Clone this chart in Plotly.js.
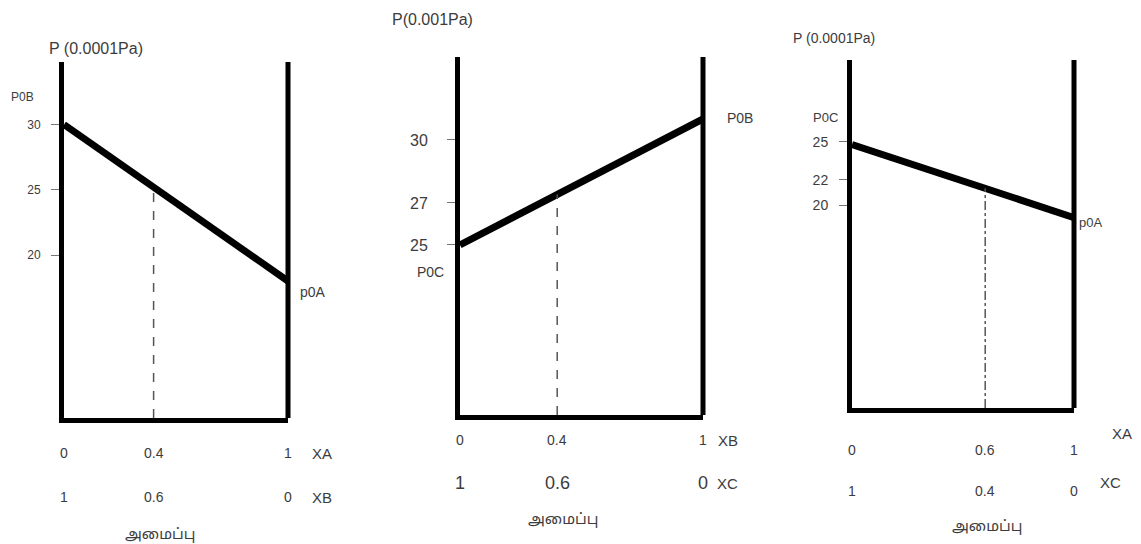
<!DOCTYPE html>
<html>
<head>
<meta charset="utf-8">
<script src="https://cdn.plot.ly/plotly-3.0.1.min.js"></script>
<style>html,body{margin:0;padding:0;background:#fff;}#chart{width:1141px;height:544px;}</style>
</head>
<body>
<div id="chart"></div>
<script>
// ---------- DATA ----------
const composition = [0, 1];               // mole fraction of the first-named component (row 1 axis)
// Panel 1: A-B system
const p1Pressure = [30, 18];              // pOB at x=0, pOA at x=1
const p1TickVals = [20, 25, 30];
const p1TickText = ["20", "25", "30"];
const p1MarkX = 0.4;
const p1Row1 = ["0", "0.4", "1"];
const p1Row2 = ["1", "0.6", "0"];
const p1Names = ["XA", "XB"];
const p1Ends = ["P0B", "p0A"];
// Panel 2: B-C system
const p2Pressure = [25, 31];              // pOC at x=0, pOB at x=1
const p2TickVals = [25, 27, 30];
const p2TickText = ["25", "27", "30"];
const p2MarkX = 0.4;
const p2Row1 = ["0", "0.4", "1"];
const p2Row2 = ["1", "0.6", "0"];
const p2Names = ["XB", "XC"];
const p2Ends = ["P0C", "P0B"];
// Panel 3: A-C system
const p3Pressure = [24.8, 19];            // pOC at x=0, pOA at x=1
const p3TickVals = [20, 22, 25];
const p3TickText = ["20", "22", "25"];
const p3MarkX = 0.6;
const p3Row1 = ["0", "0.6", "1"];
const p3Row2 = ["1", "0.4", "0"];
const p3Names = ["XA", "XC"];
const p3Ends = ["P0C", "p0A"];
const titles = ["P (0.0001Pa)", "P(0.001Pa)", "P (0.0001Pa)"];
const compLabel = "அமைப்பு";

// ---------- LAYOUT HELPERS ----------
const W = 1141, H = 544;
const px = v => v / W, py = v => 1 - v / H;
const FONT = "Liberation Sans, Arial, sans-serif";
const TXT = "#3c3c3c";

function interp(p, x) { return p[0] * (1 - x) + p[1] * x; }

const panels = [
  {p: p1Pressure, tv: p1TickVals, tt: p1TickText, mx: p1MarkX, r1: p1Row1, r2: p1Row2, names: p1Names, ends: p1Ends,
   dom: [[64, 288], [418, 62]], yr: [7.5, 34.8], tickFont: 12, standoff: 8, dash: "dash",
   rowY: [453, 497], rowFont: [14, 14], nameXY: [[322, 453], [322, 497]], lab: [160, 535],
   endXY: [[22, 97], [313, 292]], endFont: [12, 14], titleXY: [96, 48], titleSize: 16},
  {p: p2Pressure, tv: p2TickVals, tt: p2TickText, mx: p2MarkX, r1: p2Row1, r2: p2Row2, names: p2Names, ends: p2Ends,
   dom: [[460, 703], [415, 57]], yr: [16.9, 33.95], tickFont: 16, standoff: 16, dash: "dash",
   rowY: [440, 483], rowFont: [14, 18], nameXY: [[728, 440], [727, 483]], lab: [563, 520],
   endXY: [[430, 272], [740, 118]], endFont: [14, 14], titleXY: [432, 20], titleSize: 16},
  {p: p3Pressure, tv: p3TickVals, tt: p3TickText, mx: p3MarkX, r1: p3Row1, r2: p3Row2, names: p3Names, ends: p3Ends,
   dom: [[852, 1074], [408, 60]], yr: [3.9, 31.5], tickFont: 14, standoff: 8, dash: "dashdot",
   rowY: [450, 491], rowFont: [14, 14], nameXY: [[1122, 433], [1110, 482]], lab: [987, 527],
   endXY: [[825, 117], [1090, 222]], endFont: [13, 13], titleXY: [834, 38], titleSize: 14}
];

const traces = [];
const layout = {
  width: W, height: H, margin: {l: 0, r: 0, t: 0, b: 0},
  paper_bgcolor: "#fff", plot_bgcolor: "#fff", showlegend: false,
  font: {family: FONT, color: TXT},
  annotations: [], shapes: []
};

panels.forEach((P, i) => {
  const n = i === 0 ? "" : String(i + 1);
  const xa = "x" + n, ya = "y" + n;
  layout["xaxis" + n] = {
    domain: [px(P.dom[0][0]), px(P.dom[0][1])], range: [0, 1], anchor: ya,
    showline: true, linewidth: 5, linecolor: "#000", showgrid: false, zeroline: false,
    showticklabels: false, ticks: ""
  };
  layout["yaxis" + n] = {
    domain: [py(P.dom[1][0]), py(P.dom[1][1])], range: P.yr, anchor: xa,
    showline: true, linewidth: 5, linecolor: "#000", showgrid: false, zeroline: false,
    tickmode: "array", tickvals: P.tv, ticktext: P.tt, ticks: "outside", ticklen: 8,
    tickwidth: 1, tickcolor: "#777", ticklabelstandoff: P.standoff,
    tickfont: {family: FONT, size: P.tickFont, color: TXT}
  };
  // right boundary line
  layout.shapes.push({type: "line", xref: xa + " domain", yref: ya + " domain",
    x0: 1, x1: 1, y0: 0, y1: 1, line: {color: "#000", width: 5}});
  // total vapour pressure line
  traces.push({type: "scatter", mode: "lines", xaxis: xa, yaxis: ya,
    x: composition, y: P.p, line: {color: "#000", width: 7}, hoverinfo: "skip"});
  // dashed composition marker
  traces.push({type: "scatter", mode: "lines", xaxis: xa, yaxis: ya,
    x: [P.mx, P.mx], y: [P.yr[0], interp(P.p, P.mx)],
    line: {color: "#555", width: 1.5, dash: P.dash}, hoverinfo: "skip"});
  // composition labels (two rows)
  const xs = [composition[0], P.mx, composition[1]];
  [P.r1, P.r2].forEach((row, r) => {
    row.forEach((t, k) => {
      layout.annotations.push({xref: xa, yref: "paper", x: xs[k], y: py(P.rowY[r]),
        text: t, showarrow: false, xanchor: "center", yanchor: "middle",
        font: {family: FONT, size: P.rowFont[r], color: TXT}});
    });
    layout.annotations.push({xref: "paper", yref: "paper", x: px(P.nameXY[r][0]), y: py(P.nameXY[r][1]),
      text: P.names[r], showarrow: false, xanchor: "center", yanchor: "middle",
      font: {family: FONT, size: 15, color: TXT}});
  });
  // Tamil axis caption
  layout.annotations.push({xref: "paper", yref: "paper", x: px(P.lab[0]), y: py(P.lab[1]),
    text: compLabel, showarrow: false, xanchor: "center", yanchor: "middle",
    font: {family: "Noto Sans Tamil, Noto Sans, sans-serif", size: 15, color: TXT}});
  // end-point labels
  P.ends.forEach((t, k) => {
    layout.annotations.push({xref: "paper", yref: "paper", x: px(P.endXY[k][0]), y: py(P.endXY[k][1]),
      text: t, showarrow: false, xanchor: "center", yanchor: "middle",
      font: {family: FONT, size: P.endFont[k], color: TXT}});
  });
  // pressure axis title
  layout.annotations.push({xref: "paper", yref: "paper", x: px(P.titleXY[0]), y: py(P.titleXY[1]),
    text: titles[i], showarrow: false, xanchor: "center", yanchor: "middle",
    font: {family: FONT, size: P.titleSize, color: TXT}});
});

Plotly.newPlot("chart", traces, layout, {staticPlot: true, displayModeBar: false});
</script>
</body>
</html>
